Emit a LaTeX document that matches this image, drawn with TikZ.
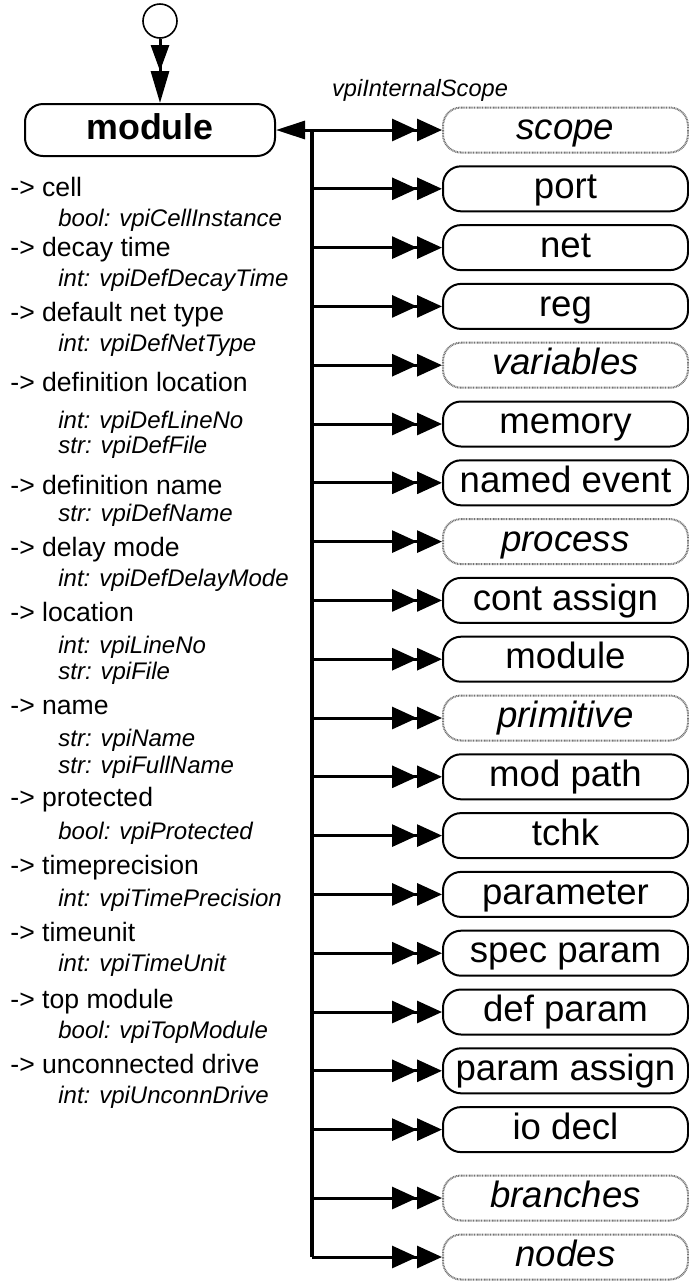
\documentclass[tikz,border=0pt]{standalone}
\usepackage{fontspec}
\setmainfont{Liberation Sans}
\usetikzlibrary{arrows.meta,positioning}

\tikzset{
  objbox/.style={draw,line width=1pt,rounded corners=9pt,minimum width=122.5pt,
    minimum height=22.5pt,inner sep=0pt,text height=13pt,text depth=3.4pt,
    font=\fontsize{18.3}{20}\selectfont},
  absbox/.style={objbox,draw=black!55,line width=1pt,dash pattern=on 0.45pt off 0.35pt,
    font=\fontsize{18.3}{20}\selectfont\itshape},
  prop/.style={anchor=west,inner sep=0pt,text height=9.6pt,text depth=2.8pt,
    font=\fontsize{13.3}{15}\selectfont},
  propval/.style={anchor=west,inner sep=0pt,text height=8.6pt,text depth=2.5pt,
    font=\fontsize{12}{14}\selectfont\itshape},
  dbl/.style={line width=1.5pt,-{Triangle[length=12.5pt,width=11pt]Triangle[length=12.5pt,width=11pt]}},
}

\begin{document}
\begin{tikzpicture}[x=0.5pt,y=-0.5pt]
\useasboundingbox (0,0) rectangle (689,1282);

% start and the module itself
\node[circle,draw,line width=0.8pt,minimum size=17pt,inner sep=0pt] (start) at (160,21) {};
\node[objbox,minimum width=125pt,minimum height=26pt,text height=13pt,text depth=3.6pt,
  font=\fontsize{17.9}{20}\selectfont\bfseries] (top) at (150,130) {module};
\draw[line width=1.5pt,-{Triangle[length=13pt,width=9pt]Triangle[length=16pt,width=9pt]}]
  (start) -- (start |- top.north);

% bus
\coordinate (bustop) at (312,130);
\coordinate (busbot) at (312,1257);
\draw[line width=2pt] (bustop) -- (busbot);
\draw[line width=1.5pt,-{Triangle[length=14.5pt,width=9pt]}] (bustop) -- (top.east);

\node[font=\fontsize{11.8}{13}\selectfont\itshape] (lbl) at (420,90) {vpiInternalScope};

% related objects
\foreach \nm/\txt/\sty/\y in {scope/scope/absbox/130, port/port/objbox/188.8,
  net/net/objbox/247.6, reg/reg/objbox/306.4, variables/variables/absbox/365.2,
  memory/memory/objbox/424, namedevent/named event/objbox/482.8,
  process/process/absbox/541.6, contassign/cont assign/objbox/600.4,
  submodule/module/objbox/659.2, primitive/primitive/absbox/718,
  modpath/mod path/objbox/776.8, tchk/tchk/objbox/835.6,
  parameter/parameter/objbox/894.4, specparam/spec param/objbox/953.2,
  defparam/def param/objbox/1012, paramassign/param assign/objbox/1070.8,
  iodecl/io decl/objbox/1129.6, branches/branches/absbox/1198,
  nodes/nodes/absbox/1257}
{
  \node[\sty] (\nm) at (565.5,\y) {\txt};
  \draw[dbl] (bustop |- \nm.west) -- (\nm.west);
}

% properties
\foreach \y/\txt in {190/cell, 250/decay time, 315/default net type,
  385/definition location, 488/definition name, 550/delay mode, 615/location,
  708/name, 800/protected, 868/timeprecision, 935/timeunit, 1002/top module,
  1067/unconnected drive}
  \node[prop] (p\y) at (10,\y) {-> \txt};

\foreach \y/\txt in {220/bool: vpiCellInstance, 280/int: vpiDefDecayTime,
  345/int: vpiDefNetType, 422/int: vpiDefLineNo, 447/str: vpiDefFile,
  515/str: vpiDefName, 580/int: vpiDefDelayMode, 647/int: vpiLineNo,
  673/str: vpiFile, 740/str: vpiName, 767/str: vpiFullName,
  833/bool: vpiProtected, 900/int: vpiTimePrecision, 965/int: vpiTimeUnit,
  1032/bool: vpiTopModule, 1097/int: vpiUnconnDrive}
  \node[propval] (v\y) at (58,\y) {\txt};

\end{tikzpicture}
\end{document}
